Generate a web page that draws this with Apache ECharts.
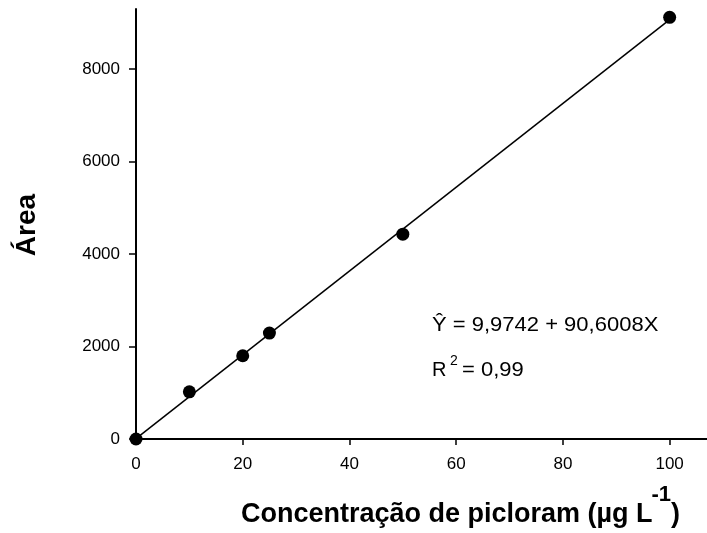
<!DOCTYPE html>
<html>
<head>
<meta charset="utf-8">
<script src="https://cdn.jsdelivr.net/npm/echarts@6/dist/echarts.min.js"></script>
<style>
html,body{margin:0;padding:0;background:#fff;}
#chart{width:707px;height:533px;}
</style>
</head>
<body>
<div id="chart"></div>
<script>
// ---- data ----
const concentrations = [0, 10, 20, 25, 50, 100];
const areas = [0, 1020, 1800, 2290, 4430, 9120];
const fitX = [0, 100];
const fitY = [10, 9070];
const xTicks = [0, 20, 40, 60, 80, 100];
const yTicks = [0, 2000, 4000, 6000, 8000];
const xTitle = 'Concentração de picloram (µg L';
const xTitleSup = '-1';
const xTitleEnd = ')';
const yTitle = 'Área';
const eqLine1 = 'Ŷ = 9,9742 + 90,6008X';
const eqR = 'R';
const eqRSup = '2';
const eqRRest = '= 0,99';

const FONT = '"Liberation Sans", Arial, sans-serif';
const chart = echarts.init(document.getElementById('chart'));

const mc = document.createElement('canvas').getContext('2d');
function textW(str, size, weight) {
  mc.font = (weight || 'normal') + ' ' + size + 'px ' + FONT;
  return mc.measureText(str).width;
}

// x-title pieces
const tSize = 27, supSize = 22;
const w1 = textW(xTitle, tSize, 'bold');
const w2 = textW(xTitleSup, supSize, 'bold');
const w3 = textW(xTitleEnd, tSize, 'bold');
const tStart = 461 - (w1 + w2 + w3) / 2;
const tMid = 515;

const scatterData = concentrations.map((c, i) => [c, areas[i]]);
const fitData = fitX.map((x, i) => [x, fitY[i]]);

function plain(v) { return String(v); }

chart.setOption({
  animation: false,
  backgroundColor: '#fff',
  grid: { left: 136, right: 0, top: 9, bottom: 94, containLabel: false },
  xAxis: {
    type: 'value', min: 0, max: 107,
    splitLine: { show: false },
    axisLine: { show: true, onZero: false, lineStyle: { color: '#000', width: 2 } },
    axisTick: { show: true, inside: false, length: 6, customValues: xTicks, lineStyle: { color: '#000', width: 1.5 } },
    axisLabel: { customValues: xTicks, formatter: plain, margin: 17, color: '#000', fontSize: 17, fontFamily: FONT }
  },
  yAxis: {
    type: 'value', min: 0, max: 9300,
    splitLine: { show: false },
    axisLine: { show: true, onZero: false, lineStyle: { color: '#000', width: 2 } },
    axisTick: { show: true, inside: false, length: 7, customValues: yTicks, lineStyle: { color: '#000', width: 1.5 } },
    axisLabel: { customValues: yTicks, formatter: plain, margin: 16, color: '#000', fontSize: 17, fontFamily: FONT }
  },
  series: [
    {
      type: 'line', data: fitData, showSymbol: false, symbol: 'none',
      lineStyle: { color: '#000', width: 1.5 }, z: 2
    },
    {
      type: 'scatter', data: scatterData, symbol: 'circle', symbolSize: 13,
      itemStyle: { color: '#000', opacity: 1 }, z: 3
    }
  ],
  graphic: [
    {
      type: 'text', x: 27, y: 225, rotation: Math.PI / 2,
      style: { text: yTitle, font: 'bold 28px ' + FONT, fill: '#000', align: 'center', verticalAlign: 'middle' }
    },
    {
      type: 'text', x: tStart, y: tMid,
      style: { text: xTitle, font: 'bold ' + tSize + 'px ' + FONT, fill: '#000', align: 'left', verticalAlign: 'middle' }
    },
    {
      type: 'text', x: tStart + w1 - 1, y: tMid - 20,
      style: { text: xTitleSup, font: 'bold ' + supSize + 'px ' + FONT, fill: '#000', align: 'left', verticalAlign: 'middle' }
    },
    {
      type: 'text', x: tStart + w1 + w2 - 1, y: tMid,
      style: { text: xTitleEnd, font: 'bold ' + tSize + 'px ' + FONT, fill: '#000', align: 'left', verticalAlign: 'middle' }
    },
    {
      type: 'text', x: 432, y: 325, scaleX: 1.1, originX: 0,
      style: { text: eqLine1, font: '20px ' + FONT, fill: '#000', align: 'left', verticalAlign: 'middle' }
    },
    {
      type: 'text', x: 432, y: 370,
      style: { text: eqR, font: '20px ' + FONT, fill: '#000', align: 'left', verticalAlign: 'middle' }
    },
    {
      type: 'text', x: 450, y: 361,
      style: { text: eqRSup, font: '14px ' + FONT, fill: '#000', align: 'left', verticalAlign: 'middle' }
    },
    {
      type: 'text', x: 462, y: 370, scaleX: 1.1, originX: 0,
      style: { text: eqRRest, font: '20px ' + FONT, fill: '#000', align: 'left', verticalAlign: 'middle' }
    }
  ]
});
</script>
</body>
</html>
